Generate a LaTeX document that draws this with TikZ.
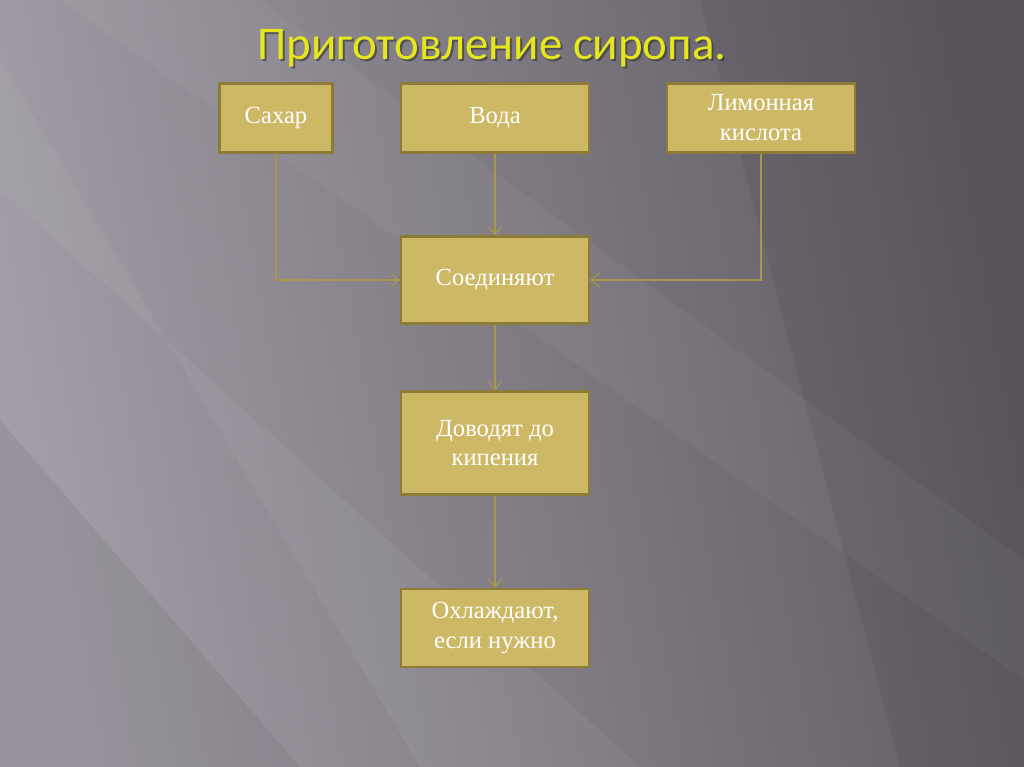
\documentclass[tikz,border=0pt]{standalone}
\usepackage{fontspec}
\setmainfont{Liberation Serif}
\newfontfamily\titlefont{Carlito}
\usetikzlibrary{arrows.meta}
\definecolor{boxfill}{HTML}{CDB866}
\definecolor{boxline}{HTML}{8C7C38}
\definecolor{wireline}{HTML}{A8964A}
\definecolor{bgleft}{HTML}{A29DA6}
\definecolor{bgright}{HTML}{5E5A60}
\definecolor{titleyellow}{HTML}{E6E61E}
\tikzset{
  stepbox/.style={draw=boxline, line width=1.2pt, fill=boxfill, text=white,
    minimum width=3.76cm, align=center, inner sep=2pt,
    font=\fontsize{14}{17}\selectfont},
  titletext/.style={font=\titlefont\fontsize{26.7}{30}\selectfont},
  wire/.style={draw=wireline, line width=0.6pt, -{Straight Barb[length=5pt,width=8pt]}}
}
\begin{document}
\begin{tikzpicture}[x=0.02cm, y=-0.02cm]
    % background
    \useasboundingbox (0,0) rectangle (1024,767);
    \shade[left color=bgleft, right color=bgright, shading angle=100] (0,0) rectangle (1024,767);
    \fill[white, opacity=.05] (0,60)--(0,190)--(640,767)--(420,767)--cycle;
    \fill[white, opacity=.04] (60,0)--(260,0)--(1024,560)--(1024,680)--cycle;
    \fill[black, opacity=.06] (0,420)--(0,767)--(300,767)--cycle;
    \fill[black, opacity=.06] (700,0)--(1024,0)--(1024,767)--(900,767)--cycle;
    % title
    \node[titletext, text=black!80, opacity=.6] (titleshadow) at (494,50) {Приготовление сиропа.};
    \node[titletext, text=titleyellow] (title) at (492,48) {Приготовление сиропа.};
    % ingredients
    \node[stepbox, minimum width=2.26cm, minimum height=1.38cm] (sugar) at (276,118) {Сахар};
    \node[stepbox, minimum height=1.38cm] (water) at (495,118) {Вода};
    \node[stepbox, minimum height=1.38cm] (acid) at (761,118) {Лимонная\\кислота};
    % steps
    \node[stepbox, minimum height=1.74cm] (mix) at (495,280) {Соединяют};
    \node[stepbox, minimum height=2.06cm] (boil) at (495,443) {Доводят до\\кипения};
    \node[stepbox, minimum height=1.56cm] (cool) at (495,628) {Охлаждают,\\если нужно};
    % connectors
    \draw[wire] (sugar.south) |- (mix.west);
    \draw[wire] (water) -- (mix);
    \draw[wire] (acid.south) |- (mix.east);
    \draw[wire] (mix) -- (boil);
    \draw[wire] (boil) -- (cool);
\end{tikzpicture}
\end{document}
